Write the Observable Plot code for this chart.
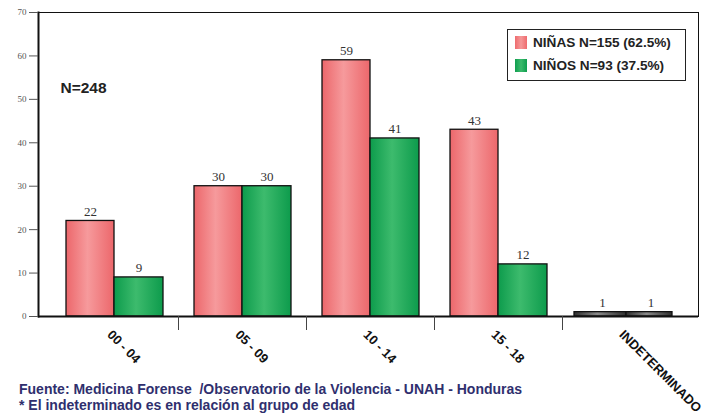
<!DOCTYPE html>
<html>
<head>
<meta charset="utf-8">
<script src="https://cdn.jsdelivr.net/npm/d3@7"></script>
<script src="https://cdn.jsdelivr.net/npm/@observablehq/plot@0.6"></script>
<style>
  html, body { margin: 0; padding: 0; background: #fff; }
  #wrap { position: relative; width: 710px; height: 416px; overflow: hidden; font-family: "Liberation Sans", Arial, sans-serif; }
  #chart svg { display: block; }
  .legend { position: absolute; left: 507px; top: 29px; width: 177px; height: 50px; border: 1.5px solid #222; background: #fff; }
  .legend .row { position: absolute; left: 7px; display: flex; align-items: center; font-weight: bold; font-size: 13.6px; color: #222; white-space: nowrap; }
  .legend .sw { width: 12px; height: 13px; margin-right: 6px; }
  .foot { position: absolute; left: 19px; top: 381px; font-weight: bold; font-size: 14px; line-height: 16px; color: #2f2f6e; white-space: nowrap; }
</style>
</head>
<body>
<div id="wrap">
  <div id="chart"></div>
  <div class="legend">
    <div class="row" style="top:5px"><div class="sw" style="background:linear-gradient(90deg,#ee6b6e,#f59898,#ee6b6e)"></div><span id="l1"></span></div>
    <div class="row" style="top:28px"><div class="sw" style="background:linear-gradient(90deg,#0f9e4f,#3cba6c,#0f9e4f)"></div><span id="l2"></span></div>
  </div>
  <div class="foot">
    <div>Fuente: Medicina Forense&nbsp; /Observatorio de la Violencia - UNAH - Honduras</div>
    <div>* El indeterminado es en relación al grupo de edad</div>
  </div>
</div>
<script>
const categories = ["00 - 04", "05 - 09", "10 - 14", "15 - 18", "INDETERMINADO"];
const ninas = [22, 30, 59, 43, 1];
const ninos = [9, 30, 41, 12, 1];
const yTicks = [0, 10, 20, 30, 40, 50, 60, 70];
const legendLabels = ["NIÑAS N=155 (62.5%)", "NIÑOS N=93 (37.5%)"];
const totalLabel = "N=248";

document.getElementById("l1").textContent = legendLabels[0];
document.getElementById("l2").textContent = legendLabels[1];

const rows = categories.map((c, i) => ({cat: c, ninas: ninas[i], ninos: ninos[i]}));
const isInd = d => d.cat === "INDETERMINADO";

function defsMark() {
  const ns = "http://www.w3.org/2000/svg";
  const defs = document.createElementNS(ns, "defs");
  const grads = [
    ["gPink", "#ec676b", "#f69a9c"],
    ["gGreen", "#0d9b4c", "#3dbb6d"],
    ["gGray", "#2e2e2e", "#8a8a8a"]
  ];
  for (const [id, edge, mid] of grads) {
    const g = document.createElementNS(ns, "linearGradient");
    g.setAttribute("id", id);
    g.setAttribute("x1", "0"); g.setAttribute("x2", "1");
    g.setAttribute("y1", "0"); g.setAttribute("y2", "0");
    [[0, edge], [0.45, mid], [1, edge]].forEach(([o, c]) => {
      const s = document.createElementNS(ns, "stop");
      s.setAttribute("offset", o);
      s.setAttribute("stop-color", c);
      g.appendChild(s);
    });
    defs.appendChild(g);
  }
  return defs;
}

const serif = "'Liberation Serif', 'Times New Roman', serif";
const sans = "'Liberation Sans', Arial, sans-serif";

const plot = Plot.plot({
  width: 710,
  height: 416,
  marginLeft: 38,
  marginTop: 12,
  marginRight: 12,
  marginBottom: 100,
  style: {background: "transparent", overflow: "visible"},
  x: {domain: categories, padding: 0, insetLeft: 12, insetRight: 8, axis: null, label: null},
  y: {domain: [0, 70], axis: null, label: null},
  marks: [
    defsMark,
    Plot.frame({stroke: "#111", strokeWidth: 1}),
    Plot.barY(rows, {filter: d => !isInd(d), x: "cat", y: "ninas", fill: "url(#gPink)", stroke: "#111", strokeWidth: 1.3, insetLeft: 16, insetRight: 64}),
    Plot.barY(rows, {filter: d => !isInd(d), x: "cat", y: "ninos", fill: "url(#gGreen)", stroke: "#111", strokeWidth: 1.3, insetLeft: 64, insetRight: 15}),
    Plot.barY(rows, {filter: isInd, x: "cat", y: "ninas", fill: "url(#gGray)", stroke: "#111", strokeWidth: 1.3, insetLeft: 12, insetRight: 64}),
    Plot.barY(rows, {filter: isInd, x: "cat", y: "ninos", fill: "url(#gGray)", stroke: "#111", strokeWidth: 1.3, insetLeft: 64, insetRight: 18}),
    Plot.text(rows, {x: "cat", y: "ninas", text: d => String(d.ninas), dx: -24, dy: -5, lineAnchor: "bottom", fontFamily: serif, fontSize: 13, fill: "#333"}),
    Plot.text(rows, {x: "cat", y: "ninos", text: d => String(d.ninos), dx: 24.5, dy: -5, lineAnchor: "bottom", fontFamily: serif, fontSize: 13, fill: "#333"}),
    Plot.ruleY([0], {stroke: "#111", strokeWidth: 2}),
    Plot.frame({anchor: "left", stroke: "#111", strokeWidth: 2}),
    Plot.axisY({ticks: yTicks, tickSize: 9, tickPadding: 3, fontFamily: serif, fontSize: 9, color: "#555", label: null}),
    Plot.axisX({ticks: categories.slice(0, 4), tickSize: 14, tickFormat: () => "", dx: 64, stroke: "#444", label: null}),
    Plot.text(categories, {x: d => d, frameAnchor: "bottom", rotate: 45, textAnchor: "start", lineAnchor: "middle", dx: -5, dy: 16, fontFamily: sans, fontWeight: "bold", fontSize: 13, fill: "#111"}),
    Plot.text([totalLabel], {frameAnchor: "top-left", dx: 22, dy: 76, textAnchor: "start", lineAnchor: "middle", fontFamily: sans, fontWeight: "bold", fontSize: 15.5, fill: "#222"})
  ]
});
document.getElementById("chart").appendChild(plot);
</script>
</body>
</html>
